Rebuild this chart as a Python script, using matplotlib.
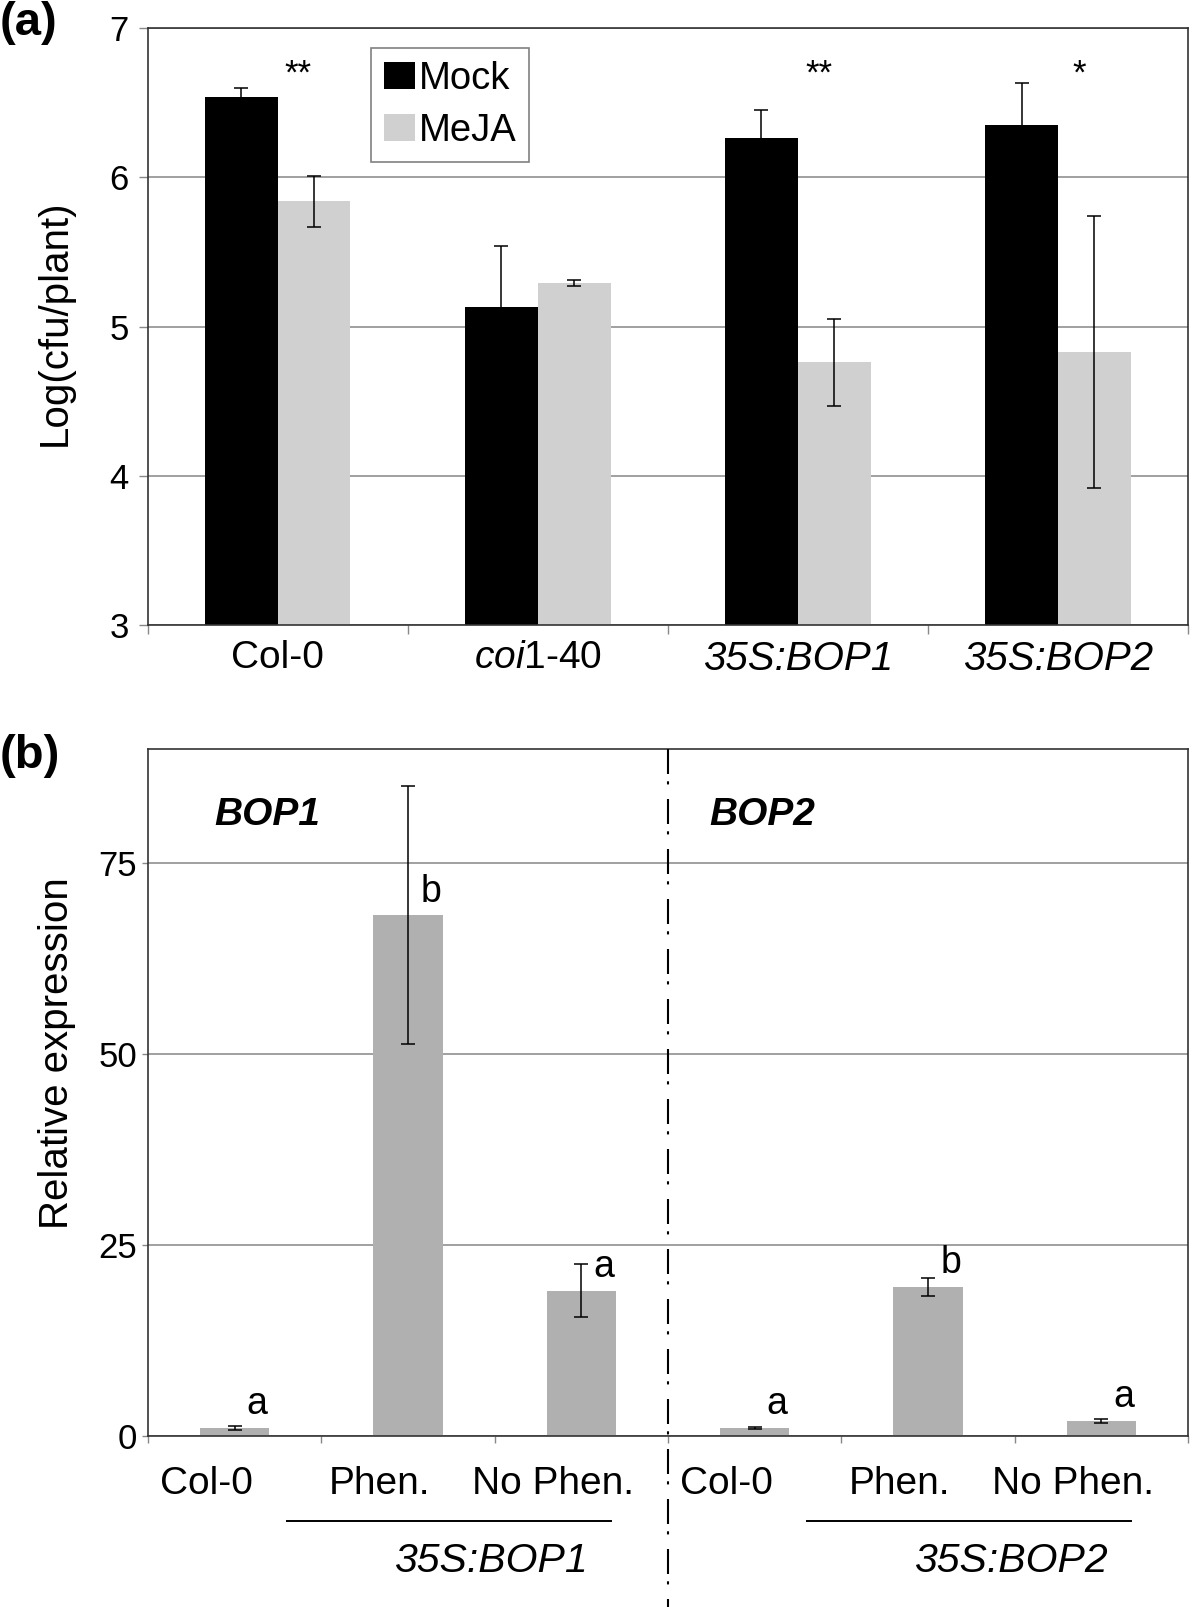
import matplotlib
matplotlib.use("Agg")
import matplotlib.pyplot as plt
import matplotlib.transforms as mtransforms
import numpy as np

plt.rcParams['font.family'] = ['Liberation Sans', 'DejaVu Sans']
plt.rcParams['mathtext.fontset'] = 'custom'
plt.rcParams['mathtext.rm'] = 'Liberation Sans'
plt.rcParams['mathtext.it'] = 'Liberation Sans:italic'
plt.rcParams['mathtext.bf'] = 'Liberation Sans:bold'

# panel (a) data: bacterial growth
lines_a = ['Col-0', r'$\mathit{coi1}$-40', '35S:BOP1', '35S:BOP2']
mock = [6.54, 5.13, 6.26, 6.35]
mock_err = [0.06, 0.41, 0.19, 0.28]
meja = [5.84, 5.29, 4.76, 4.83]
meja_err = [0.17, 0.02, 0.29, 0.91]
stars = ['**', '', '**', '*']

# panel (b) data: relative expression
lines_b = ['Col-0', 'Phen.', 'No Phen.', 'Col-0', 'Phen.', 'No Phen.']
expr = [1.0, 68.2, 19.0, 1.0, 19.5, 1.9]
expr_err = [0.3, 16.9, 3.5, 0.1, 1.2, 0.3]
letters = ['a', 'b', 'a', 'a', 'b', 'a']
genes = ['BOP1', 'BOP2']
groups = ['35S:BOP1', '35S:BOP2']

W, H = 1200, 1607
fig = plt.figure(figsize=(W / 100, H / 100), dpi=100)

grid_col = '#a0a0a0'
spine_col = '#333333'

# ---------------- panel (a)
ax1 = fig.add_axes([147.5 / W, 1 - 625 / H, (1188 - 147.5) / W, (625 - 28) / H])
x = np.arange(len(lines_a))
bw = 0.28
ax1.bar(x - bw / 2, mock, bw, color='black', label='Mock', zorder=2)
ax1.bar(x + bw / 2, meja, bw, color='#d0d0d0', label='MeJA', zorder=2)
ax1.errorbar(x - bw / 2, mock, yerr=mock_err, fmt='none', ecolor='black',
             elinewidth=1.1, capsize=5, capthick=1.1, zorder=3)
ax1.errorbar(x + bw / 2, meja, yerr=meja_err, fmt='none', ecolor='black',
             elinewidth=1.1, capsize=5, capthick=1.1, zorder=3)
for i, s in enumerate(stars):
    if s:
        ax1.text(i + 0.08, 6.63, s, ha='center', va='baseline', fontsize=25)

ax1.set_xlim(-0.5, 3.5)
ax1.set_ylim(3, 7)
ax1.set_yticks([3, 4, 5, 6, 7])
ax1.yaxis.grid(True, color=grid_col, lw=1.4, zorder=0)
ax1.set_axisbelow(True)
ax1.set_xticks(x)
ax1.set_xticklabels(lines_a, fontsize=28)
for lab in ax1.get_xticklabels()[2:]:
    lab.set_fontstyle('italic')
    lab.set_fontsize(29)
ax1.set_xticks(np.arange(-0.5, 4, 1), minor=True)
ax1.tick_params(axis='x', which='major', length=0, pad=10.5)
ax1.tick_params(axis='x', which='minor', length=6.5, width=1, color='#888888')
ax1.tick_params(axis='y', labelsize=25, length=6.5, width=1, color='#888888', pad=7)
for sp in ax1.spines.values():
    sp.set_color(spine_col)
    sp.set_linewidth(1.2)

leg = ax1.legend(loc='upper left', bbox_to_anchor=(0.215, 0.9665), fontsize=27.5,
                 frameon=True, fancybox=False, edgecolor='#808080', framealpha=1,
                 handlelength=0.8, handleheight=0.72, handletextpad=0.1,
                 borderpad=0.34, labelspacing=0.42, borderaxespad=0)
leg.get_frame().set_linewidth(1.2)

fig.text(55 / W, 1 - 323 / H, 'Log(cfu/plant)', rotation=90, ha='center',
         va='center', fontsize=29)
fig.text(0.0, 1 - 35 / H, '(a)', fontsize=34, fontweight='bold', va='baseline')

# ---------------- panel (b)
ax2 = fig.add_axes([148 / W, 1 - 1435.7 / H, (1188 - 148) / W, (1435.7 - 749) / H])
xb = np.arange(len(lines_b))
ax2.bar(xb, expr, 0.40, color='#b0b0b0', zorder=2)
ax2.errorbar(xb, expr, yerr=expr_err, fmt='none', ecolor='black',
             elinewidth=1.1, capsize=5, capthick=1.1, zorder=3)
for i, l in enumerate(letters):
    ax2.text(i + 0.07, expr[i] + 1.8, l, ha='left', va='baseline', fontsize=27)

ax2.set_xlim(-0.5, 5.5)
ax2.set_ylim(0, 90)
ax2.set_yticks([0, 25, 50, 75])
ax2.yaxis.grid(True, color=grid_col, lw=1.4, zorder=0)
ax2.set_axisbelow(True)
ax2.set_xticks(xb)
ax2.set_xticklabels(lines_b, fontsize=28)
ax2.set_xticks(np.arange(-0.5, 6, 1), minor=True)
ax2.tick_params(axis='x', which='major', length=0, pad=22)
ax2.tick_params(axis='x', which='minor', length=5, width=1, color='#888888')
ax2.tick_params(axis='y', labelsize=25, length=4, width=1, color='#888888', pad=4)
# labels in the original sit a little left of their bars
shift = mtransforms.ScaledTranslation(-0.28, 0, fig.dpi_scale_trans)
for lab in ax2.get_xticklabels():
    lab.set_transform(lab.get_transform() + shift)
for sp in ax2.spines.values():
    sp.set_color(spine_col)
    sp.set_linewidth(1.2)

trans = mtransforms.blended_transform_factory(ax2.transData, ax2.transAxes)
for k, g in enumerate(genes):
    ax2.text(-0.116 + 2.856 * k, 80, g, fontsize=28, fontweight='bold',
             fontstyle='italic', ha='left', va='baseline')
for k, g in enumerate(groups):
    first = 3 * k + 1
    ax2.plot([first - 0.7, first + 1.17], [-0.124, -0.124], color='black', lw=1.4,
             transform=trans, clip_on=False)
    ax2.text(first + 0.48, -0.1985, g, fontsize=29.5, fontstyle='italic',
             ha='center', va='baseline', transform=trans)

# dash-dot divider between the two genes
ax2.plot([2.5, 2.5], [1, -0.4], color='black', lw=1.5,
         linestyle=(0, (12, 3.5, 1.5, 7)), transform=trans, clip_on=False, zorder=4)

fig.text(57 / W, 1 - 1053.5 / H, 'Relative expression', rotation=90, ha='center',
         va='center', fontsize=29)
fig.text(0.0, 1 - 768 / H, '(b)', fontsize=34, fontweight='bold', va='baseline')

fig.savefig('out.png', dpi=100, facecolor='white')
